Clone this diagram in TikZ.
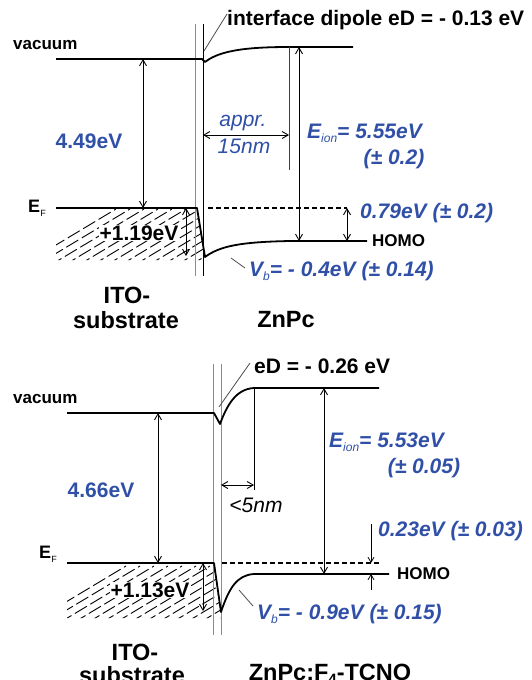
\documentclass[tikz,border=0pt]{standalone}
\usepackage{fontspec}
\setmainfont{Liberation Sans}
\usetikzlibrary{arrows.meta}
\definecolor{vblue}{RGB}{48,80,168}
\newcommand{\fs}[1]{\fontsize{#1}{#1}\selectfont}
\newcommand{\sub}[1]{{\fs{12}\mdseries\raisebox{-4pt}{#1}}}
\begin{document}
\begin{tikzpicture}[x=1pt,y=-1pt,
  lvl/.style={line width=1.8pt,line join=round},
  thinln/.style={line width=0.8pt},
  grayln/.style={line width=0.8pt,draw=black!45},
  dimarrow/.style={line width=0.9pt,{Straight Barb[length=6pt,width=7pt]}-{Straight Barb[length=6pt,width=7pt]}},
  onearrow/.style={line width=0.8pt,-{Straight Barb[length=5pt,width=6pt]}},
  dashln/.style={line width=1.5pt,dash pattern=on 5pt off 3pt},
  hatchln/.style={line width=0.9pt,dash pattern=on 14pt off 4pt},
  blk/.style={font=\fs{21}\bfseries,inner sep=0pt},
  smalllbl/.style={font=\fs{17}\bfseries,inner sep=0pt},
  titlelbl/.style={font=\fs{23.5}\bfseries,inner sep=0pt,align=center},
  bl/.style={font=\fs{21}\bfseries\itshape,text=vblue,inner sep=0pt},
  blu/.style={font=\fs{21}\bfseries,text=vblue,inner sep=0pt},
  blr/.style={font=\fs{21}\itshape,text=vblue,inner sep=0pt},
]
\useasboundingbox (0,0) rectangle (532,680);

% ================= TOP PANEL =================
\coordinate (tvL) at (56,59);
\coordinate (tvK) at (202,59);
\coordinate (tvD) at (205,62);
\coordinate (tvM) at (289,47);
\coordinate (tvR) at (353,47);
\coordinate (tfL) at (56,208);
\coordinate (tfK) at (197,208);
\coordinate (thD) at (205,257);
\coordinate (thM) at (290,241);
\coordinate (thR) at (367,241);

% hatching
\begin{scope}
\clip (56,208) -- (197,208) -- (205,260) -- (56,260) -- cycle;
\foreach \i in {0,...,16} \draw[hatchln] (6+\i*14,275) -- ++(110,-66);
\end{scope}

% interface lines
\coordinate (tg1) at (195,24); \coordinate (tg2) at (195,276);
\coordinate (tb1) at (203,24); \coordinate (tb2) at (203,276);
\draw[grayln] (tg1) -- (tg2);
\draw[thinln] (tb1) -- (tb2);

% levels
\draw[lvl] (tvL) -- (tvK) -- (tvD) .. controls (218,52) and (240,47) .. (tvM) -- (tvR);
\draw[lvl] (tfL) -- (tfK) -- (thD) .. controls (220,246) and (240,242) .. (thM) -- (thR);
\coordinate (td1) at (208,208); \coordinate (td2) at (347,208);
\draw[dashln] (td1) -- (td2);

% labels
\node[smalllbl,anchor=west] (tvac) at (13,45) {vacuum};
\node[font=\fs{18}\bfseries,inner sep=0pt] (tEF) at (37,208) {E\sub{\fs{9}F}};
\node[smalllbl,anchor=west] (thomo) at (372,241) {HOMO};

\coordinate (tan1) at (204,51); \coordinate (tan2) at (227,14);
\draw[thinln,black!70] (tan1) -- (tan2);
\node[blk,anchor=west] (tdip) at (227,20) {interface dipole eD = - 0.13 eV};

% 4.49 eV
\coordinate (ta1) at (143,59); \coordinate (ta2) at (143,208);
\draw[dimarrow] (ta1) -- (ta2);
\node[blu] (t449) at (89,141) {4.49eV};

% appr 15nm
\coordinate (tp1) at (289,47); \coordinate (tp2) at (289,170);
\draw[line width=1pt,black!75] (tp1) -- (tp2);
\coordinate (tw1) at (203,135); \coordinate (tw2) at (289,135);
\draw[dimarrow] (tw1) -- (tw2);
\node[blr] (tappr) at (243,123) {appr.};
\node[blr] (t15) at (244,146) {15nm};

% E_ion
\coordinate (te1) at (299,47); \coordinate (te2) at (299,241);
\draw[dimarrow] (te1) -- (te2);
\node[bl,anchor=west] (teion) at (307,133) {E\sub{ion}= 5.55eV};
\node[bl] (teerr) at (394,159) {(± 0.2)};

% 0.79 eV
\coordinate (tb79a) at (347,208); \coordinate (tb79b) at (347,241);
\draw[dimarrow] (tb79a) -- (tb79b);
\node[bl,anchor=west] (t079) at (360,213) {0.79eV (± 0.2)};

% +1.19 eV
\coordinate (tq1) at (186,208); \coordinate (tq2) at (186,256);
\draw[dimarrow] (tq1) -- (tq2);
\node[blk,fill=white,inner sep=1pt] (t119) at (139,233) {+1.19eV};

% Vb
\coordinate (tv1) at (231,258); \coordinate (tv2) at (245,268);
\draw[thinln,black!70] (tv1) -- (tv2);
\node[bl,anchor=west] (tvb) at (249,271) {V\sub{b}= - 0.4eV (± 0.14)};

\node[titlelbl] (tito) at (127,295) {ITO-};
\node[titlelbl] (tsub) at (126,320) {substrate};
\node[titlelbl] (tznpc) at (286,320) {ZnPc};

% ================= BOTTOM PANEL =================
\coordinate (bvL) at (67,413);
\coordinate (bvK) at (214,413);
\coordinate (bvD) at (220,424);
\coordinate (bvM) at (254,388);
\coordinate (bvR) at (379,388);
\coordinate (bfL) at (67,563);
\coordinate (bfK) at (214,563);
\coordinate (bhD) at (221,612);
\coordinate (bhM) at (254,574);
\coordinate (bhR) at (389,574);

\begin{scope}
\clip (67,563) -- (214,563) -- (221,618) -- (67,618) -- cycle;
\foreach \i in {0,...,16} \draw[hatchln] (16+\i*14,632) -- ++(110,-66);
\end{scope}

\coordinate (bg1) at (213,364); \coordinate (bg2) at (213,635);
\coordinate (bh1) at (221,364); \coordinate (bh2) at (221,635);
\draw[grayln] (bg1) -- (bg2);
\draw[grayln] (bh1) -- (bh2);

\draw[lvl] (bvL) -- (bvK) -- (bvD) .. controls (227,405) and (236,389) .. (bvM) -- (bvR);
\draw[lvl] (bfL) -- (bfK) -- (bhD) .. controls (229,588) and (237,575) .. (bhM) -- (bhR);
\coordinate (bd1) at (222,563); \coordinate (bd2) at (379,563);
\draw[dashln] (bd1) -- (bd2);

\node[smalllbl,anchor=west] (bvac) at (13,399) {vacuum};
\node[font=\fs{18}\bfseries,inner sep=0pt] (bEF) at (48,554) {E\sub{\fs{9}F}};
\node[smalllbl,anchor=west] (bhomo) at (397,574) {HOMO};

\coordinate (ban1) at (219,407); \coordinate (ban2) at (250,363);
\draw[thinln,black!70] (ban1) -- (ban2);
\node[blk,anchor=west] (bdip) at (254,366) {eD = - 0.26 eV};

% 4.66 eV
\coordinate (ba1) at (158,413); \coordinate (ba2) at (158,563);
\draw[dimarrow] (ba1) -- (ba2);
\node[blu] (b466) at (101,490) {4.66eV};

% <5nm
\coordinate (bp1) at (254,388); \coordinate (bp2) at (254,490);
\draw[line width=1pt] (bp1) -- (bp2);
\coordinate (bw1) at (221,485); \coordinate (bw2) at (254,485);
\draw[dimarrow] (bw1) -- (bw2);
\node[font=\fs{21}\itshape,inner sep=0pt] (b5nm) at (256,505) {<5nm};

% E_ion
\coordinate (be1) at (324,388); \coordinate (be2) at (324,574);
\draw[dimarrow] (be1) -- (be2);
\node[bl,anchor=west] (beion) at (329,442) {E\sub{ion}= 5.53eV};
\node[bl] (beerr) at (424,468) {(± 0.05)};

% 0.23 eV
\coordinate (bz1) at (371,524); \coordinate (bz2) at (371,563);
\coordinate (bz3) at (371,590); \coordinate (bz4) at (371,574);
\draw[onearrow] (bz1) -- (bz2);
\draw[onearrow] (bz3) -- (bz4);
\node[bl,anchor=west] (b023) at (378,531) {0.23eV (± 0.03)};

% +1.13 eV
\coordinate (bq1) at (203,563); \coordinate (bq2) at (203,611);
\draw[dimarrow] (bq1) -- (bq2);
\node[blk,fill=white,inner sep=1pt] (b113) at (150,590) {+1.13eV};

% Vb
\coordinate (bv1) at (239,590); \coordinate (bv2) at (253,606);
\draw[thinln,black!70] (bv1) -- (bv2);
\node[bl,anchor=west] (bvb) at (257,614) {V\sub{b}= - 0.9eV (± 0.15)};

\node[titlelbl] (bito) at (135,652) {ITO-};
\node[titlelbl] (bsub) at (132,675) {substrate};
\node[titlelbl] (bznpc) at (330,675) {ZnPc:F\sub{\fs{15}\bfseries 4}-TCNQ};
\end{tikzpicture}
\end{document}
